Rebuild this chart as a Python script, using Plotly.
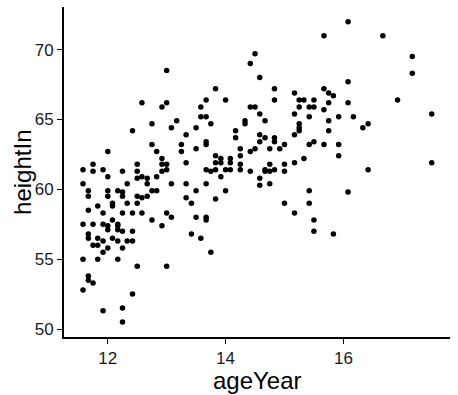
import plotly.graph_objects as go

ageYear = [
    13.0, 12.58, 12.92, 13.0, 13.17,
    14.5, 14.42, 14.58, 13.83, 14.83, 13.67, 14.0, 14.83, 15.17, 15.25, 15.33, 15.5,
    13.58, 14.42, 14.5, 15.25, 15.42, 15.5, 13.58, 13.67, 14.58, 15.17, 15.42, 14.33, 14.67,
    16.08, 15.67, 16.67, 17.17, 17.17, 16.08, 15.67, 15.75, 15.83, 16.92, 15.75, 16.08,
    15.67, 17.5, 15.75, 15.92, 16.17,
    12.75, 12.42, 13.08, 13.33, 12.75, 13.25, 12.0, 12.83, 13.25, 12.92, 13.33, 11.75,
    12.5, 12.92, 13.0, 11.58, 11.75, 11.92, 12.25, 12.5, 13.0, 12.0, 12.5, 12.58, 12.67,
    12.83, 12.92, 11.58, 12.33, 12.67, 13.08, 13.33, 11.67, 11.67, 12.0, 12.0, 12.17,
    12.25, 12.25, 12.5, 12.58, 12.67, 12.75, 12.83, 13.33, 11.83, 12.08, 12.08, 12.33,
    12.5, 11.67, 11.92, 12.25, 12.42, 12.58, 13.0, 13.08, 12.75, 11.58, 11.75, 11.92,
    12.0, 12.08, 12.17, 12.17, 12.92,
    13.75, 14.33, 13.5, 14.17, 14.17, 14.58, 14.67, 14.83, 14.83, 15.17, 15.25, 15.25,
    15.25, 14.58, 15.5, 13.67, 13.67, 13.5, 14.25, 14.42, 14.5, 14.75, 14.92, 15.0, 15.42,
    14.25, 13.83, 13.92, 13.83, 13.92, 14.08, 14.08, 14.25, 13.67, 13.75, 13.83, 14.0,
    14.08, 14.25, 14.42, 14.67, 14.67, 14.75, 14.75, 14.83, 15.0, 15.0, 15.17, 15.33,
    13.92, 14.58, 14.58, 14.75, 13.67, 13.5, 14.0, 15.42, 13.42, 13.83, 15.0, 15.42,
    15.17, 13.5, 13.67, 13.67, 15.5,
    15.75, 16.33, 16.42, 15.67, 15.92, 15.92, 16.42, 17.5, 16.08,
    12.0, 12.17, 12.25, 12.42, 13.42, 11.67, 11.67, 11.83, 11.92, 12.08, 12.17, 12.33,
    12.42, 11.75, 11.83, 12.0, 12.25, 11.92, 11.58, 11.83, 12.17, 12.5, 13.0, 11.67,
    11.67, 11.75, 11.58, 12.42, 12.25, 11.92, 12.25,
    13.58, 13.75, 15.5, 15.83,
]

heightIn = [
    68.5, 66.2, 65.9, 66.2, 64.9,
    69.7, 69.0, 68.0, 67.2, 67.2, 66.4, 66.4, 66.4, 66.9, 66.4, 66.4, 66.4,
    65.9, 65.9, 65.9, 65.9, 65.9, 65.9, 65.2, 65.2, 65.4, 65.4, 65.2, 64.9, 64.9,
    72.0, 71.0, 71.0, 69.5, 68.3, 67.7, 67.2, 66.9, 66.7, 66.4, 66.2, 66.2,
    65.7, 65.4, 64.9, 65.2, 65.2,
    64.7, 64.2, 64.4, 63.9, 63.2, 63.2, 62.7, 62.7, 62.7, 62.2, 61.9, 61.8,
    61.8, 61.8, 61.8, 61.4, 61.3, 61.4, 61.3, 61.3, 61.4, 60.9, 60.8, 60.9, 60.8,
    60.9, 61.3, 60.4, 60.4, 60.4, 60.4, 60.4, 59.9, 59.5, 59.9, 59.5, 59.9,
    59.8, 59.5, 59.5, 59.4, 59.5, 59.9, 59.9, 59.4, 58.8, 59.0, 58.8, 59.0,
    59.0, 58.5, 58.3, 58.3, 58.3, 58.3, 58.3, 58.0, 57.8, 57.5, 57.5, 57.5,
    57.4, 57.8, 57.5, 57.4, 57.4,
    64.7, 64.7, 64.4, 64.2, 63.7, 63.9, 63.7, 63.7, 63.4, 63.9, 64.7, 64.4,
    64.2, 63.4, 63.4, 63.4, 63.2, 62.9, 62.9, 62.7, 62.9, 62.9, 62.9, 63.2, 63.2,
    62.4, 62.4, 62.2, 61.9, 61.9, 62.2, 61.9, 61.8, 61.4, 61.3, 61.4, 61.4,
    61.4, 61.4, 61.3, 61.4, 61.3, 61.3, 61.8, 61.4, 61.8, 61.3, 61.9, 62.2,
    60.9, 60.8, 60.3, 60.4, 60.4, 59.9, 59.9, 59.9, 59.0, 59.3, 59.0, 59.0,
    58.3, 58.0, 58.0, 57.8, 57.8,
    64.2, 64.4, 64.7, 63.2, 63.2, 62.4, 61.4, 61.9, 59.8,
    57.1, 57.1, 57.0, 57.0, 56.8, 56.8, 56.5, 56.5, 56.3, 56.5, 56.3, 56.3,
    56.3, 56.0, 56.0, 55.8, 55.8, 55.5, 55.0, 55.0, 55.0, 54.5, 54.5, 53.8,
    53.5, 53.3, 52.8, 52.5, 51.5, 51.3, 50.5,
    56.5, 55.5, 57.0, 56.8,
]

x_ticks = [12, 14, 16]
y_ticks = [50, 55, 60, 65, 70]
x_title = "ageYear"
y_title = "heightIn"

FONT = "Liberation Sans, Arial, sans-serif"

fig = go.Figure(
    go.Scatter(
        x=ageYear, y=heightIn, mode="markers",
        marker=dict(color="black", size=5.5, line=dict(width=0)),
        hoverinfo="skip",
    )
)

axis_common = dict(
    showgrid=False, zeroline=False, showline=True, linecolor="black", linewidth=1.8,
    ticks="outside", ticklen=5, tickwidth=1.2, tickcolor="black",
    tickfont=dict(family=FONT, size=17, color="#1a1a1a"),
    automargin=False,
)

fig.update_xaxes(
    range=[11.257, 17.81], tickvals=x_ticks, ticktext=[str(v) for v in x_ticks],
    **axis_common,
)
fig.update_yaxes(
    range=[49.43, 73.05], tickvals=y_ticks, ticktext=[str(v) for v in y_ticks],
    **axis_common,
)

fig.update_layout(
    width=458, height=395,
    margin=dict(l=64, r=8, t=7, b=58),
    plot_bgcolor="white", paper_bgcolor="white",
    showlegend=False,
    annotations=[
        dict(text=x_title, xref="paper", yref="paper", x=0.5, y=-0.131,
             xanchor="center", yanchor="middle", showarrow=False,
             font=dict(family=FONT, size=24, color="black")),
        dict(text=y_title, xref="paper", yref="paper", x=-0.109, y=0.5,
             xanchor="center", yanchor="middle", textangle=-90, showarrow=False,
             font=dict(family=FONT, size=24, color="black")),
    ],
)

fig.write_html(
    "out.html",
    config={"displayModeBar": False},
    post_script="document.body.style.margin='0';document.body.style.padding='0';",
)
